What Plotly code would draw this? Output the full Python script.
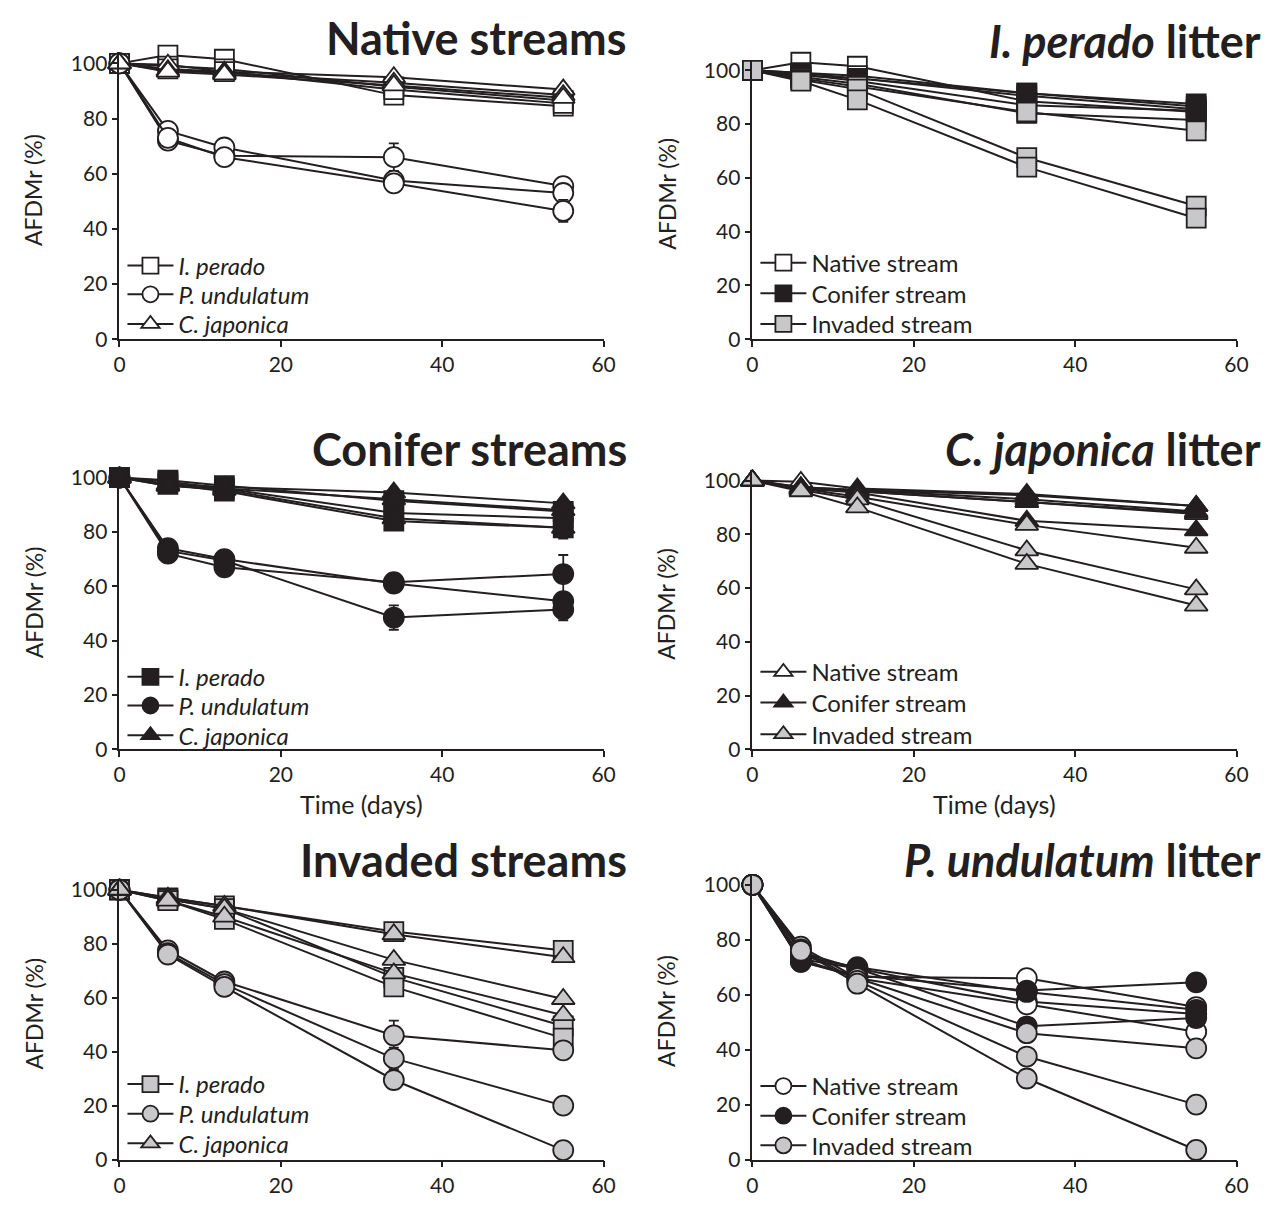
import plotly.graph_objects as go

# ---------------- data ----------------
days = [0, 6, 13, 34, 55]

litters = ["ip", "pu", "cj"]
litter_names = {"ip": "I. perado", "pu": "P. undulatum", "cj": "C. japonica"}
streams = ["native", "conifer", "invaded"]
stream_names = {"native": "Native stream", "conifer": "Conifer stream", "invaded": "Invaded stream"}

# AFDMr (%) per replicate stream (3 replicates for each stream type x litter)
ip_native = [[100, 103, 101.5, 88.5, 84.5], [100, 99, 98, 91.5, 86.5], [100, 98, 97, 90.5, 85.5]]
pu_native = [[100, 72, 66.5, 66, 55.5], [100, 75.5, 69.5, 57.5, 53], [100, 73, 66, 56.5, 46.5]]
cj_native = [[100, 99.5, 97, 95, 90.5], [100, 97.5, 96.5, 93, 88.5], [100, 97, 96, 92, 87.5]]

ip_conifer = [[100, 99, 97, 91.5, 87.5], [100, 98.5, 96, 87, 85], [100, 97.5, 95, 84, 81.5]]
pu_conifer = [[100, 72, 67, 61.5, 64.5], [100, 74, 70, 61, 54.5], [100, 73, 69.5, 48.5, 51.5]]
cj_conifer = [[100, 97.5, 96.5, 94.5, 90.5], [100, 97, 96, 92, 88], [100, 97, 95.5, 85, 81.5]]

ip_invaded = [[100, 97, 94, 84.5, 77.5], [100, 96.5, 93, 67.5, 49.5], [100, 96, 89, 64, 45]]
pu_invaded = [[100, 77.5, 66, 46, 40.5], [100, 76.5, 65, 37.5, 20], [100, 76, 64, 29.5, 3.5]]
cj_invaded = [[100, 97, 94, 83.5, 75], [100, 96.5, 93, 74, 59.5], [100, 96, 90, 69, 53.5]]

# standard errors visible in the stream-type panels (None = hidden by marker)
N = None
ip_native_se = [[N] * 5, [N] * 5, [N] * 5]
pu_native_se = [[N, N, N, 5, N], [N] * 5, [N, N, N, N, 4]]
cj_native_se = [[N] * 5, [N] * 5, [N] * 5]
ip_conifer_se = [[N] * 5, [N] * 5, [N, N, N, N, 4]]
pu_conifer_se = [[N, N, N, N, 7], [N] * 5, [N, N, N, 4.5, 4]]
cj_conifer_se = [[N] * 5, [N] * 5, [N] * 5]
ip_invaded_se = [[N] * 5, [N] * 5, [N] * 5]
pu_invaded_se = [[N, N, N, 5.5, N], [N, N, N, 4, N], [N] * 5]
cj_invaded_se = [[N] * 5, [N] * 5, [N] * 5]

data = {
    ("native", "ip"): ip_native, ("native", "pu"): pu_native, ("native", "cj"): cj_native,
    ("conifer", "ip"): ip_conifer, ("conifer", "pu"): pu_conifer, ("conifer", "cj"): cj_conifer,
    ("invaded", "ip"): ip_invaded, ("invaded", "pu"): pu_invaded, ("invaded", "cj"): cj_invaded,
}
se = {
    ("native", "ip"): ip_native_se, ("native", "pu"): pu_native_se, ("native", "cj"): cj_native_se,
    ("conifer", "ip"): ip_conifer_se, ("conifer", "pu"): pu_conifer_se, ("conifer", "cj"): cj_conifer_se,
    ("invaded", "ip"): ip_invaded_se, ("invaded", "pu"): pu_invaded_se, ("invaded", "cj"): cj_invaded_se,
}

x_ticks = [0, 20, 40, 60]
y_ticks = [0, 20, 40, 60, 80, 100]

# ---------------- style ----------------
W, H = 1279, 1212
INK = "#231f20"
FILL = {"native": "#ffffff", "conifer": INK, "invaded": "#c8c8ca"}
SYMBOL = {"ip": "square", "pu": "circle", "cj": "triangle-up"}
MSIZE = {"ip": 19, "pu": 20, "cj": 20}
FONT = "Lato, 'Open Sans', sans-serif"
YMAX = 104

# panel geometry in pixels: (x0px, x60px) and (y100px, y0px)
cols = {"L": (107, 598), "R": (749, 1240)}
panels = [
    (1, "L", 53, 332, "stream", "native"),
    (2, "R", 60, 332, "litter", "ip"),
    (3, "L", 472, 747, "stream", "conifer"),
    (4, "R", 475, 747, "litter", "cj"),
    (5, "L", 889, 1162, "stream", "invaded"),
    (6, "R", 884, 1162, "litter", "pu"),
]
# legend entry centre rows (px) per panel
legend_rows = {1: (258, 287, 317), 2: (255, 286, 317), 3: (674, 703, 733),
               4: (669, 700, 732), 5: (1086, 1116, 1146), 6: (1088, 1118, 1148)}
legend_x = {"L": 110, "R": 752}
title_pos = {1: (624, 27), 2: (1267, 30), 3: (624, 443), 4: (1267, 443), 5: (624, 859), 6: (1267, 859)}
title_text = {
    1: "<b>Native streams</b>", 2: "<b><i>I. perado</i> litter</b>",
    3: "<b>Conifer streams</b>", 4: "<b><i>C. japonica</i> litter</b>",
    5: "<b>Invaded streams</b>", 6: "<b><i>P. undulatum</i> litter</b>",
}

fig = go.Figure()
annotations = []
layout = {}

for idx, col, y100, y0, kind, key in panels:
    sfx = "" if idx == 1 else str(idx)
    xa, ya = "x" + sfx, "y" + sfx
    if kind == "stream":
        groups = [((key, lit), lit, key, "<i>" + litter_names[lit] + "</i>", True) for lit in litters]
    else:
        groups = [((st, key), key, st, stream_names[st], False) for st in streams]
    for k, (gkey, lit, st, gname, with_err) in enumerate(groups):
        lnum = (idx - 1) * 3 + k + 1
        lg = "legend" if lnum == 1 else f"legend{lnum}"
        layout[lg] = dict(
            x=legend_x[col] / W, y=1 - legend_rows[idx][k] / H, xanchor="left", yanchor="middle",
            xref="paper", yref="paper",
            bgcolor="rgba(0,0,0,0)", borderwidth=0, itemwidth=46,
            font=dict(family=FONT, size=24, color=INK),
            itemclick=False, itemdoubleclick=False,
        )
        for r, vals in enumerate(data[gkey]):
            err = None
            if with_err:
                e = se[gkey][r]
                if any(v is not None for v in e):
                    err = dict(type="data", array=[v if v is not None else 0 for v in e],
                               visible=True, color=INK, thickness=1.8, width=5)
            fig.add_trace(go.Scatter(
                x=days, y=vals, xaxis=xa, yaxis=ya, mode="lines+markers",
                name=gname, legend=lg, showlegend=(r == 0), legendgroup=f"{idx}-{gname}",
                line=dict(color=INK, width=2),
                marker=dict(symbol=SYMBOL[lit], size=MSIZE[lit], color=FILL[st],
                            line=dict(color=INK, width=1.8)),
                error_y=err, cliponaxis=False, hoverinfo="x+y+name",
            ))
    x0px, x60px = cols[col]
    ytop = y0 - (y0 - y100) * YMAX / 100
    layout["xaxis" + sfx] = dict(
        domain=[x0px / W, x60px / W], range=[0, 60], anchor=ya,
        tickvals=x_ticks, ticks="outside", ticklen=6, tickwidth=1.8, tickcolor=INK,
        showline=True, linecolor=INK, linewidth=1.8, showgrid=False, zeroline=False,
        tickfont=dict(family=FONT, size=21, color=INK),
    )
    layout["yaxis" + sfx] = dict(
        domain=[1 - y0 / H, 1 - ytop / H], range=[0, YMAX], anchor=xa,
        tickvals=y_ticks, ticks="outside", ticklen=6, tickwidth=1.8, tickcolor=INK,
        showline=True, linecolor=INK, linewidth=1.8, showgrid=False, zeroline=False,
        tickfont=dict(family=FONT, size=21, color=INK),
    )
    tx, ty = title_pos[idx]
    annotations.append(dict(
        text=title_text[idx], x=tx / W, y=1 - ty / H, xref="paper", yref="paper",
        xanchor="right", yanchor="middle", showarrow=False,
        font=dict(family=FONT, size=45, color=INK),
    ))
    annotations.append(dict(
        text="AFDMr (%)", x=(x0px - 87) / W, y=1 - (y0 - 0.54 * (y0 - y100)) / H,
        xref="paper", yref="paper",
        xanchor="center", yanchor="middle", textangle=-90, showarrow=False,
        font=dict(family=FONT, size=23, color=INK),
    ))
    if idx in (3, 4):
        annotations.append(dict(
            text="Time (days)", x=(x0px + x60px) / 2 / W, y=1 - 802 / H, xref="paper", yref="paper",
            xanchor="center", yanchor="middle", showarrow=False,
            font=dict(family=FONT, size=25, color=INK),
        ))

fig.update_layout(
    width=W, height=H, margin=dict(l=0, r=0, t=0, b=0),
    plot_bgcolor="white", paper_bgcolor="white",
    annotations=annotations, **layout,
)

fig.write_html("out.html")
